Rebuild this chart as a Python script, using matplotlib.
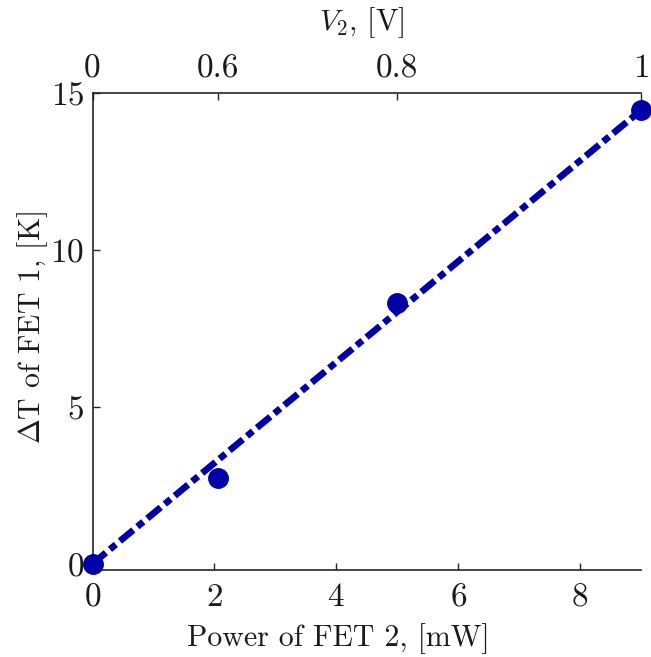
import numpy as np
import matplotlib
matplotlib.use("Agg")
import matplotlib.pyplot as plt

# measured points
power_mw = [0.0, 2.06, 5.0, 9.0]
delta_t = [0.0, 2.74, 8.31, 14.46]

# linear fit line (end points)
fit_power = [0.0, 9.0]
fit_dt = [0.0, 14.45]

# top axis: gate voltage of FET 2 at the measured powers
v2_labels = ["0", "0.6", "0.8", "1"]

x_ticks = [0, 2, 4, 6, 8]
y_ticks = [0, 5, 10, 15]

plt.rcParams['font.family'] = 'cmr10'
plt.rcParams['mathtext.fontset'] = 'cm'
plt.rcParams['axes.formatter.use_mathtext'] = True
plt.rcParams['lines.scale_dashes'] = False

blue = '#0000a6'
axcol = '#262626'

fig = plt.figure(figsize=(6.51, 6.57), dpi=100)
ax = fig.add_axes([0.1421, 0.1324, 0.9846 - 0.1421, 0.8584 - 0.1324])

# fit line
ax.plot(fit_power, fit_dt, color=blue, lw=4.8, dashes=(12.5, 3.8, 5.5, 3.8),
        dash_capstyle='butt', zorder=3)
# data
ax.plot(power_mw, delta_t, 'o', color=blue, ms=14, zorder=4, clip_on=False)

ax.set_xlim(0, 9)
ax.set_ylim(-0.2, 15)
ax.set_xticks(x_ticks)
ax.set_yticks(y_ticks)
ax.tick_params(direction='in', length=5, width=1, labelsize=24, pad=9,
               colors=axcol, labelcolor='#1a1a1a')
ax.tick_params(axis='y', pad=6)
ax.spines['right'].set_visible(False)
ax.spines['top'].set_visible(False)
for s in ['left', 'bottom']:
    ax.spines[s].set_linewidth(1.2)
    ax.spines[s].set_color(axcol)

ax.set_xlabel("Power of FET 2, [mW]", fontsize=21.5, va='center', color='#1a1a1a')
ax.xaxis.set_label_coords(0.448, -0.143)
ax.set_ylabel(r"$\Delta$T of FET 1, [K]", fontsize=21.5, va='center', color='#1a1a1a')
ax.yaxis.set_label_coords(-0.110, 0.509)

# top axis
ax2 = ax.twiny()
ax2.set_xlim(ax.get_xlim())
ax2.set_xticks(power_mw, labels=v2_labels)
ax2.tick_params(direction='in', length=5, width=1, labelsize=24, pad=7,
                colors=axcol, labelcolor='#1a1a1a')
ax2.spines['right'].set_visible(False)
ax2.spines['left'].set_visible(False)
ax2.spines['bottom'].set_visible(False)
ax2.spines['top'].set_linewidth(1.2)
ax2.spines['top'].set_color(axcol)
ax2.set_xlabel(r"$V_2$, [V]", fontsize=21.5, va='center', color='#1a1a1a')
ax2.xaxis.set_label_coords(0.49, 1.147)

plt.savefig("out.png", dpi=100)
plt.close()
